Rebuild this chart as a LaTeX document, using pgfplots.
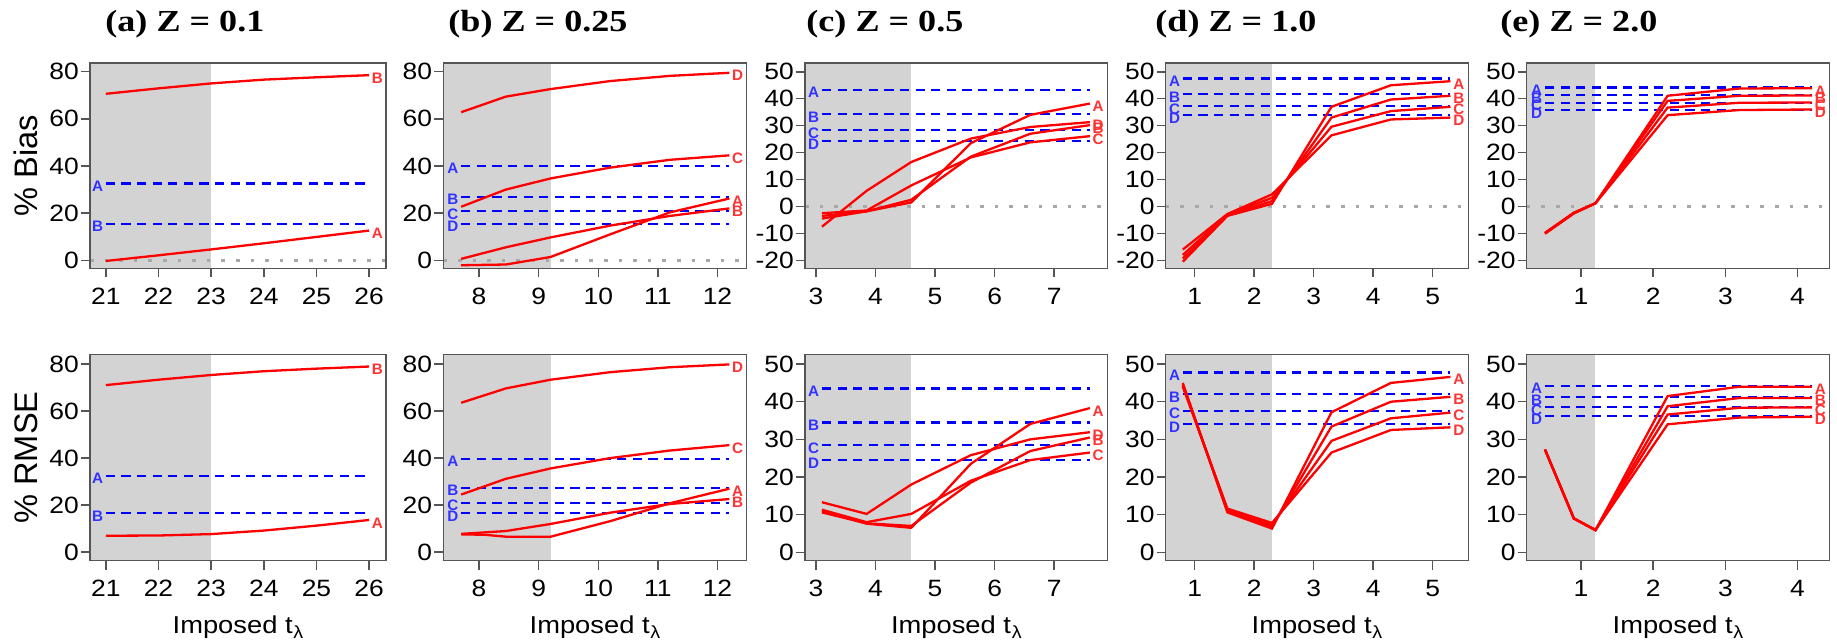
\documentclass[border=0pt]{standalone}
\usepackage{fontspec}
\setmainfont{Liberation Sans}
\newfontfamily\tfont[FakeStretch=1.12]{Liberation Sans}
\newfontfamily\ttlfont[FakeStretch=1.18]{Liberation Serif}
\usepackage{pgfplots}
\pgfplotsset{compat=1.18}
\definecolor{shade}{HTML}{D3D3D3}
\definecolor{rl}{HTML}{FF0000}
\definecolor{bl}{HTML}{0000FF}
\definecolor{rlab}{HTML}{FF3333}
\definecolor{blab}{HTML}{3333FF}
\definecolor{zl}{HTML}{A8A8A8}
\definecolor{frm}{HTML}{555555}
\tikzset{
  xtl/.style={anchor=north, inner sep=0pt, font=\tfont\fontsize{11.8}{13}\selectfont, yshift=-9.6pt},
  ytl/.style={anchor=east, inner sep=0pt, font=\tfont\fontsize{11.8}{13}\selectfont, xshift=-5.4pt},
}
\pgfplotsset{
  panel/.style={
    scale only axis, axis on top, clip=false, anchor=south west,
    axis line style={frm, line width=0.75pt},
    tick style={frm, line width=0.75pt},
    tick align=outside, major tick length=4.5pt,
    xtick pos=bottom, ytick pos=left,
    xticklabels={}, yticklabels={},
  },
  toprow/.style={height=102.7pt},
  botrow/.style={height=103.2pt,
    xlabel={Imposed t\kern0.4pt\raisebox{-2.2pt}{\fontsize{8.8}{9}\selectfont λ}},
    xlabel style={font=\tfont\fontsize{12.2}{14}\selectfont, at={(axis description cs:0.5,-0.266)}, anchor=north, inner sep=0pt}},
  ylab/.style={ylabel style={font=\fontsize{16.3}{18}\selectfont, at={(axis description cs:-0.2162,0.5)}, anchor=center}},
  redl/.style={rl, line width=1.15pt},
  bluel/.style={bl, line width=1.15pt, dash pattern=on 4.6pt off 3.2pt},
  zerol/.style={zl, line width=1.4pt, dash pattern=on 1.8pt off 5.5pt},
  shd/.style={fill=shade, draw=none},
}
\newcommand{\xt}[2]{\pgfplotsinvokeforeach{#2}{\node[xtl] at (axis cs:##1,#1) {##1};}}
\newcommand{\yt}[2]{\pgfplotsinvokeforeach{#2}{\node[ytl] at (axis cs:#1,##1) {##1};}}
\newcommand{\rlab}[3]{\node[anchor=west, text=rlab, font=\fontsize{7.6}{8}\selectfont\bfseries, inner sep=0pt, xshift=1.2pt, yshift=-1.4pt] at (axis cs:#1,#2) {#3};}
\newcommand{\blab}[3]{\node[anchor=east, text=blab, font=\fontsize{7.6}{8}\selectfont\bfseries, inner sep=0pt, xshift=-1.2pt, yshift=-1.4pt] at (axis cs:#1,#2) {#3};}
\newcommand{\ttl}[3]{\node[anchor=base west, inner sep=0pt, font=\ttlfont\bfseries\fontsize{15.3}{17}\selectfont] at (#1,#2) {#3};}
\begin{document}
\begin{tikzpicture}
\useasboundingbox (0,0) rectangle (918.5pt,320.5pt);
\ttl{52.5pt}{304.65pt}{(a) Z = 0.1}
\ttl{224pt}{304.65pt}{(b) Z = 0.25}
\ttl{403pt}{304.65pt}{(c) Z = 0.5}
\ttl{577.5pt}{304.65pt}{(d) Z = 1.0}
\ttl{750pt}{304.65pt}{(e) Z = 2.0}
% ---------------- (a) top
\begin{axis}[panel, toprow, ylab, at={(45pt,186.35pt)}, width=148pt,
  xmin=20.70, xmax=26.32, ymin=-3.4, ymax=83.7, xtick={21,...,26}, ytick={0,20,...,80},
  ylabel={\% Bias}]
\addplot[shd] coordinates {(20.70,-3.4) (23,-3.4) (23,83.7) (20.70,83.7)} -- cycle;
\addplot[zerol] coordinates {(20.70,0) (26.32,0)};
\addplot[bluel] coordinates {(21,32.5) (26,32.5)};
\addplot[bluel] coordinates {(21,15.4) (26,15.4)};
\addplot[redl] coordinates {(21,70.6) (22,72.9) (23,75.0) (24,76.6) (25,77.6) (26,78.5)};
\addplot[redl] coordinates {(21,-0.3) (22,2.1) (23,4.6) (24,7.2) (25,9.9) (26,12.6)};
\rlab{26}{78.5}{B}\rlab{26}{12.6}{A}
\blab{21}{32.5}{A}\blab{21}{15.4}{B}
\xt{-3.4}{21,22,23,24,25,26}\yt{20.70}{0,20,40,60,80}
\end{axis}
% ---------------- (a) bottom
\begin{axis}[panel, botrow, ylab, at={(45pt,40.15pt)}, width=148pt,
  xmin=20.70, xmax=26.32, ymin=-3.6, ymax=84.1, xtick={21,...,26}, ytick={0,20,...,80},
  ylabel={\% RMSE}]
\addplot[shd] coordinates {(20.70,-3.6) (23,-3.6) (23,84.1) (20.70,84.1)} -- cycle;
\addplot[bluel] coordinates {(21,32.4) (26,32.4)};
\addplot[bluel] coordinates {(21,16.6) (26,16.6)};
\addplot[redl] coordinates {(21,71.0) (22,73.3) (23,75.3) (24,76.9) (25,78.0) (26,78.9)};
\addplot[redl] coordinates {(21,7.0) (22,7.1) (23,7.7) (24,9.2) (25,11.3) (26,13.7)};
\rlab{26}{78.9}{B}\rlab{26}{13.7}{A}
\blab{21}{32.4}{A}\blab{21}{16.6}{B}
\xt{-3.6}{21,22,23,24,25,26}\yt{20.70}{0,20,40,60,80}
\end{axis}
% ---------------- (b) top
\begin{axis}[panel, toprow, at={(221.65pt,186.35pt)}, width=151.7pt,
  xmin=7.40, xmax=12.49, ymin=-3.4, ymax=83.7, xtick={8,...,12}, ytick={0,20,...,80}]
\addplot[shd] coordinates {(7.40,-3.4) (9.2,-3.4) (9.2,83.7) (7.40,83.7)} -- cycle;
\addplot[zerol] coordinates {(7.40,0) (12.49,0)};
\addplot[bluel] coordinates {(7.7,40.0) (12.2,40.0)};
\addplot[bluel] coordinates {(7.7,26.9) (12.2,26.9)};
\addplot[bluel] coordinates {(7.7,20.8) (12.2,20.8)};
\addplot[bluel] coordinates {(7.7,15.4) (12.2,15.4)};
\addplot[redl] coordinates {(7.7,62.8) (8.45,69.4) (9.2,72.6) (10.2,76.0) (11.2,78.2) (12.2,79.5)};
\addplot[redl] coordinates {(7.7,22.7) (8.45,30.0) (9.2,34.7) (10.2,39.3) (11.2,42.6) (12.2,44.5)};
\addplot[redl] coordinates {(7.7,0.6) (8.45,5.5) (9.2,9.7) (10.2,14.7) (11.2,18.8) (12.2,22.0)};
\addplot[redl] coordinates {(7.7,-2.1) (8.45,-1.8) (9.2,1.4) (10.2,11.0) (11.2,20.3) (12.2,26.2)};
\rlab{12.2}{79.5}{D}\rlab{12.2}{44.5}{C}\rlab{12.2}{26.2}{A}\rlab{12.2}{22.0}{B}
\blab{7.7}{40.0}{A}\blab{7.7}{26.9}{B}\blab{7.7}{20.8}{C}\blab{7.7}{15.4}{D}
\xt{-3.4}{8,9,10,11,12}\yt{7.40}{0,20,40,60,80}
\end{axis}
% ---------------- (b) bottom
\begin{axis}[panel, botrow, at={(221.65pt,40.15pt)}, width=151.7pt,
  xmin=7.40, xmax=12.49, ymin=-3.6, ymax=84.1, xtick={8,...,12}, ytick={0,20,...,80}]
\addplot[shd] coordinates {(7.40,-3.6) (9.2,-3.6) (9.2,84.1) (7.40,84.1)} -- cycle;
\addplot[bluel] coordinates {(7.7,39.7) (12.2,39.7)};
\addplot[bluel] coordinates {(7.7,27.4) (12.2,27.4)};
\addplot[bluel] coordinates {(7.7,21.0) (12.2,21.0)};
\addplot[bluel] coordinates {(7.7,16.6) (12.2,16.6)};
\addplot[redl] coordinates {(7.7,63.5) (8.45,69.6) (9.2,73.3) (10.2,76.5) (11.2,78.6) (12.2,79.8)};
\addplot[redl] coordinates {(7.7,24.5) (8.45,31.2) (9.2,35.6) (10.2,40.0) (11.2,43.2) (12.2,45.5)};
\addplot[redl] coordinates {(7.7,7.8) (8.45,9.0) (9.2,12.0) (10.2,16.8) (11.2,20.5) (12.2,22.6)};
\addplot[redl] coordinates {(7.7,7.6) (8.1,7.4) (8.45,6.6) (9.2,6.6) (10.2,13.2) (11.2,20.8) (12.2,27.0)};
\rlab{12.2}{79.8}{D}\rlab{12.2}{45.5}{C}\rlab{12.2}{27.0}{A}\rlab{12.2}{22.6}{B}
\blab{7.7}{39.7}{A}\blab{7.7}{27.4}{B}\blab{7.7}{21.0}{C}\blab{7.7}{16.6}{D}
\xt{-3.6}{8,9,10,11,12}\yt{7.40}{0,20,40,60,80}
\end{axis}
% ---------------- (c) top
\begin{axis}[panel, toprow, at={(402.5pt,186.35pt)}, width=151.35pt,
  xmin=2.815, xmax=7.90, ymin=-22.95, ymax=53.3, xtick={3,...,7}, ytick={-20,-10,...,50}]
\addplot[shd] coordinates {(2.815,-22.95) (4.6,-22.95) (4.6,53.3) (2.815,53.3)} -- cycle;
\addplot[zerol] coordinates {(2.815,0) (7.90,0)};
\addplot[bluel] coordinates {(3.1,43.3) (7.6,43.3)};
\addplot[bluel] coordinates {(3.1,34.3) (7.6,34.3)};
\addplot[bluel] coordinates {(3.1,28.3) (7.6,28.3)};
\addplot[bluel] coordinates {(3.1,24.2) (7.6,24.2)};
\addplot[redl] coordinates {(3.1,-4.5) (3.85,-1.8) (4.6,1.5) (5.6,23.5) (6.6,34.0) (7.6,38.2)};
\addplot[redl] coordinates {(3.1,-7.5) (3.85,5.8) (4.6,16.5) (5.6,25.2) (6.6,29.5) (7.6,31.3)};
\addplot[redl] coordinates {(3.1,-2.5) (3.85,-1.5) (4.6,7.8) (5.6,18.2) (6.6,23.8) (7.6,26.1)};
\addplot[redl] coordinates {(3.1,-3.5) (3.85,-1.8) (4.6,2.5) (5.6,18.5) (6.6,27.0) (7.6,30.2)};
\rlab{7.6}{38.2}{A}\rlab{7.6}{31.3}{D}\rlab{7.6}{30.2}{B}\rlab{7.6}{26.1}{C}
\blab{3.1}{43.3}{A}\blab{3.1}{34.3}{B}\blab{3.1}{28.3}{C}\blab{3.1}{24.2}{D}
\xt{-22.95}{3,4,5,6,7}\yt{2.815}{-20,-10,0,10,20,30,40,50}
\end{axis}
% ---------------- (c) bottom
\begin{axis}[panel, botrow, at={(402.5pt,40.15pt)}, width=151.35pt,
  xmin=2.815, xmax=7.90, ymin=-2.23, ymax=52.6, xtick={3,...,7}, ytick={0,10,...,50}]
\addplot[shd] coordinates {(2.815,-2.23) (4.6,-2.23) (4.6,52.6) (2.815,52.6)} -- cycle;
\addplot[bluel] coordinates {(3.1,43.5) (7.6,43.5)};
\addplot[bluel] coordinates {(3.1,34.5) (7.6,34.5)};
\addplot[bluel] coordinates {(3.1,28.5) (7.6,28.5)};
\addplot[bluel] coordinates {(3.1,24.5) (7.6,24.5)};
\addplot[redl] coordinates {(3.1,13.3) (3.85,10.2) (4.6,18.0) (5.6,25.8) (6.6,30.0) (7.6,31.9)};
\addplot[redl] coordinates {(3.1,11.3) (3.85,8.0) (4.6,10.2) (5.6,19.0) (6.6,24.5) (7.6,26.5)};
\addplot[redl] coordinates {(3.1,11.0) (3.85,7.6) (4.6,6.5) (5.6,23.5) (6.6,34.1) (7.6,38.3)};
\addplot[redl] coordinates {(3.1,10.6) (3.85,7.7) (4.6,7.0) (5.6,18.5) (6.6,26.9) (7.6,30.5)};
\rlab{7.6}{38.3}{A}\rlab{7.6}{31.9}{D}\rlab{7.6}{30.5}{B}\rlab{7.6}{26.5}{C}
\blab{3.1}{43.5}{A}\blab{3.1}{34.5}{B}\blab{3.1}{28.5}{C}\blab{3.1}{24.5}{D}
\xt{-2.23}{3,4,5,6,7}\yt{2.815}{0,10,20,30,40,50}
\end{axis}
% ---------------- (d) top
\begin{axis}[panel, toprow, at={(582.85pt,186.35pt)}, width=151.3pt,
  xmin=0.513, xmax=5.60, ymin=-22.95, ymax=53.3, xtick={1,...,5}, ytick={-20,-10,...,50}]
\addplot[shd] coordinates {(0.513,-22.95) (2.3,-22.95) (2.3,53.3) (0.513,53.3)} -- cycle;
\addplot[zerol] coordinates {(0.513,0) (5.60,0)};
\addplot[bluel] coordinates {(0.8,47.5) (5.3,47.5)};
\addplot[bluel] coordinates {(0.8,41.7) (5.3,41.7)};
\addplot[bluel] coordinates {(0.8,37.2) (5.3,37.2)};
\addplot[bluel] coordinates {(0.8,33.9) (5.3,33.9)};
\addplot[redl] coordinates {(0.8,-20.5) (1.55,-3.5) (2.3,1.0) (3.3,37.0) (4.3,45.0) (5.3,46.5)};
\addplot[redl] coordinates {(0.8,-19.3) (1.55,-3.3) (2.3,2.0) (3.3,33.0) (4.3,39.7) (5.3,41.1)};
\addplot[redl] coordinates {(0.8,-18.0) (1.55,-3.0) (2.3,3.2) (3.3,29.6) (4.3,35.4) (5.3,37.0)};
\addplot[redl] coordinates {(0.8,-16.0) (1.55,-2.8) (2.3,4.5) (3.3,26.4) (4.3,32.3) (5.3,33.0)};
\rlab{5.3}{46.5}{A}\rlab{5.3}{41.1}{B}\rlab{5.3}{37.0}{C}\rlab{5.3}{33.0}{D}
\blab{0.8}{47.5}{A}\blab{0.8}{41.7}{B}\blab{0.8}{37.2}{C}\blab{0.8}{33.9}{D}
\xt{-22.95}{1,2,3,4,5}\yt{0.513}{-20,-10,0,10,20,30,40,50}
\end{axis}
% ---------------- (d) bottom
\begin{axis}[panel, botrow, at={(582.85pt,40.15pt)}, width=151.3pt,
  xmin=0.513, xmax=5.60, ymin=-2.23, ymax=52.6, xtick={1,...,5}, ytick={0,10,...,50}]
\addplot[shd] coordinates {(0.513,-2.23) (2.3,-2.23) (2.3,52.6) (0.513,52.6)} -- cycle;
\addplot[bluel] coordinates {(0.8,47.8) (5.3,47.8)};
\addplot[bluel] coordinates {(0.8,42.0) (5.3,42.0)};
\addplot[bluel] coordinates {(0.8,37.6) (5.3,37.6)};
\addplot[bluel] coordinates {(0.8,34.0) (5.3,34.0)};
\addplot[redl] coordinates {(0.8,45.0) (1.55,10.6) (2.3,6.3) (3.3,37.2) (4.3,45.0) (5.3,46.6)};
\addplot[redl] coordinates {(0.8,44.6) (1.55,11.0) (2.3,6.8) (3.3,33.4) (4.3,40.0) (5.3,41.3)};
\addplot[redl] coordinates {(0.8,44.3) (1.55,11.3) (2.3,7.3) (3.3,29.6) (4.3,35.6) (5.3,37.1)};
\addplot[redl] coordinates {(0.8,44.0) (1.55,11.6) (2.3,7.8) (3.3,26.5) (4.3,32.5) (5.3,33.2)};
\rlab{5.3}{46.6}{A}\rlab{5.3}{41.3}{B}\rlab{5.3}{37.1}{C}\rlab{5.3}{33.2}{D}
\blab{0.8}{47.8}{A}\blab{0.8}{42.0}{B}\blab{0.8}{37.6}{C}\blab{0.8}{34.0}{D}
\xt{-2.23}{1,2,3,4,5}\yt{0.513}{0,10,20,30,40,50}
\end{axis}
% ---------------- (e) top
\begin{axis}[panel, toprow, at={(763.35pt,186.35pt)}, width=151.3pt,
  xmin=0.247, xmax=4.44, ymin=-22.95, ymax=53.3, xtick={1,...,4}, ytick={-20,-10,...,50}]
\addplot[shd] coordinates {(0.247,-22.95) (1.2,-22.95) (1.2,53.3) (0.247,53.3)} -- cycle;
\addplot[zerol] coordinates {(0.247,0) (4.44,0)};
\addplot[bluel] coordinates {(0.5,44.2) (4.2,44.2)};
\addplot[bluel] coordinates {(0.5,41.3) (4.2,41.3)};
\addplot[bluel] coordinates {(0.5,38.5) (4.2,38.5)};
\addplot[bluel] coordinates {(0.5,35.8) (4.2,35.8)};
\addplot[redl] coordinates {(0.5,-10.1) (0.9,-2.6) (1.2,1.2) (2.2,41.1) (3.2,43.8) (4.2,43.9)};
\addplot[redl] coordinates {(0.5,-10.0) (0.9,-2.5) (1.2,1.2) (2.2,39.2) (3.2,41.1) (4.2,41.2)};
\addplot[redl] coordinates {(0.5,-9.9) (0.9,-2.4) (1.2,1.2) (2.2,36.7) (3.2,38.5) (4.2,38.6)};
\addplot[redl] coordinates {(0.5,-9.8) (0.9,-2.3) (1.2,1.2) (2.2,33.9) (3.2,35.8) (4.2,36.0)};
\rlab{4.2}{43.9}{A}\rlab{4.2}{41.2}{B}\rlab{4.2}{38.6}{C}\rlab{4.2}{36.0}{D}
\blab{0.5}{44.2}{A}\blab{0.5}{41.3}{B}\blab{0.5}{38.5}{C}\blab{0.5}{35.8}{D}
\xt{-22.95}{1,2,3,4}\yt{0.247}{-20,-10,0,10,20,30,40,50}
\end{axis}
% ---------------- (e) bottom
\begin{axis}[panel, botrow, at={(763.35pt,40.15pt)}, width=151.3pt,
  xmin=0.247, xmax=4.44, ymin=-2.23, ymax=52.6, xtick={1,...,4}, ytick={0,10,...,50}]
\addplot[shd] coordinates {(0.247,-2.23) (1.2,-2.23) (1.2,52.6) (0.247,52.6)} -- cycle;
\addplot[bluel] coordinates {(0.5,44.2) (4.2,44.2)};
\addplot[bluel] coordinates {(0.5,41.2) (4.2,41.2)};
\addplot[bluel] coordinates {(0.5,38.6) (4.2,38.6)};
\addplot[bluel] coordinates {(0.5,36.2) (4.2,36.2)};
\addplot[redl] coordinates {(0.5,27.3) (0.9,9.0) (1.2,5.9) (2.2,41.5) (3.2,44.0) (4.2,44.0)};
\addplot[redl] coordinates {(0.5,27.3) (0.9,9.0) (1.2,5.9) (2.2,38.8) (3.2,41.0) (4.2,41.0)};
\addplot[redl] coordinates {(0.5,27.3) (0.9,9.0) (1.2,5.9) (2.2,36.6) (3.2,38.4) (4.2,38.5)};
\addplot[redl] coordinates {(0.5,27.3) (0.9,9.0) (1.2,5.9) (2.2,34.0) (3.2,35.8) (4.2,36.0)};
\rlab{4.2}{44.0}{A}\rlab{4.2}{41.0}{B}\rlab{4.2}{38.5}{C}\rlab{4.2}{36.0}{D}
\blab{0.5}{44.2}{A}\blab{0.5}{41.2}{B}\blab{0.5}{38.6}{C}\blab{0.5}{36.2}{D}
\xt{-2.23}{1,2,3,4}\yt{0.247}{0,10,20,30,40,50}
\end{axis}
\end{tikzpicture}
\end{document}
